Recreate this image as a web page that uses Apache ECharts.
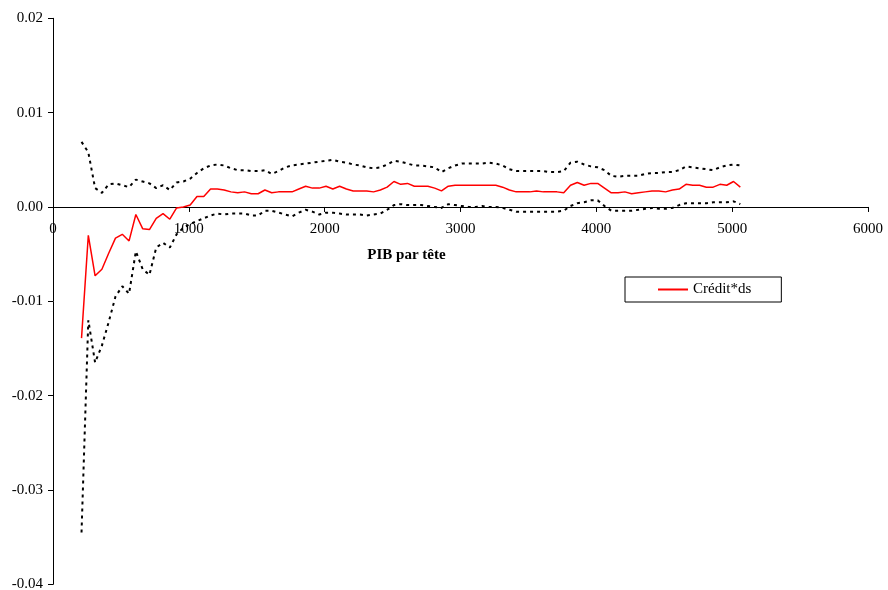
<!DOCTYPE html>
<html>
<head>
<meta charset="utf-8">
<script src="https://cdn.jsdelivr.net/npm/echarts@6/dist/echarts.min.js"></script>
<style>html,body{margin:0;padding:0;background:#fff}#c{width:888px;height:590px}</style>
</head>
<body>
<div id="c"></div>
<script>
var pib = [210,260,310,360,410,460,510,560,610,660,710,760,810,860,910,960,1010,1060,1110,1160,1210,1260,1310,1360,1410,1460,1510,1560,1610,1660,1710,1760,1810,1860,1910,1960,2010,2060,2110,2160,2210,2260,2310,2360,2410,2460,2510,2560,2610,2660,2710,2760,2810,2860,2910,2960,3010,3060,3110,3160,3210,3260,3310,3360,3410,3460,3510,3560,3610,3660,3710,3760,3810,3860,3910,3960,4010,4060,4110,4160,4210,4260,4310,4360,4410,4460,4510,4560,4610,4660,4710,4760,4810,4860,4910,4960,5010,5060];

var credit = [-0.0139,-0.0030,-0.0073,-0.0066,-0.0049,-0.0033,-0.0029,-0.0036,-0.0008,-0.0023,-0.0024,-0.0012,-0.0007,-0.0013,-0.0001,0.0000,0.0002,
0.0011,0.0011,0.0019,0.0019,0.0018,0.0016,0.0015,0.0016,0.0014,0.0014,0.0018,0.0015,0.0016,0.0016,0.0016,0.0019,0.0022,0.0020,0.0020,0.0022,0.0019,0.0022,0.0019,0.0017,0.0017,0.0017,0.0016,0.0018,0.0021,
0.0027,0.0024,0.0025,0.0022,0.0022,0.0022,0.0020,0.0017,0.0022,0.0023,0.0023,0.0023,0.0023,0.0023,0.0023,0.0023,0.0021,0.0018,0.0016,0.0016,0.0016,0.0017,0.0016,0.0016,0.0016,0.0015,0.0023,0.0026,0.0023,
0.0025,0.0025,0.0020,0.0015,0.0015,0.0016,0.0014,0.0015,0.0016,0.0017,0.0017,0.0016,0.0018,0.0019,0.0024,0.0023,0.0023,0.0021,0.0021,0.0024,0.0023,0.0027,0.0021];

var upper = [0.0069,0.0058,0.0020,0.0015,0.0024,0.0025,0.0023,0.0021,0.0029,0.0027,0.0025,0.0020,0.0023,0.0018,0.0026,0.0027,0.0030,
0.0036,0.0041,0.0044,0.0045,0.0044,0.0041,0.0039,0.0039,0.0038,0.0038,0.0039,0.0035,0.0038,0.0042,0.0044,0.0045,0.0046,0.0047,0.0048,0.0049,0.0050,0.0048,0.0047,0.0045,0.0044,0.0042,0.0041,0.0042,0.0045,
0.0049,0.0048,0.0046,0.0044,0.0044,0.0043,0.0042,0.0037,0.0041,0.0044,0.0046,0.0046,0.0046,0.0046,0.0047,0.0046,0.0044,0.0040,0.0038,0.0038,0.0038,0.0038,0.0038,0.0037,0.0037,0.0038,0.0047,0.0048,0.0045,
0.0043,0.0042,0.0039,0.0033,0.0032,0.0033,0.0033,0.0033,0.0035,0.0036,0.0036,0.0037,0.0037,0.0039,0.0043,0.0042,0.0041,0.0040,0.0039,0.0042,0.0044,0.0045,0.0044];

var lower = [-0.0345,-0.0120,-0.0165,-0.0147,-0.0122,-0.0095,-0.0084,-0.0092,-0.0047,-0.0066,-0.0072,-0.0043,-0.0038,-0.0043,-0.0029,-0.0022,-0.0018,
-0.0015,-0.0012,-0.0009,-0.0007,-0.0008,-0.0007,-0.0007,-0.0007,-0.0009,-0.0009,-0.0004,-0.0004,-0.0006,-0.0008,-0.0010,-0.0006,-0.0003,-0.0005,-0.0008,-0.0006,-0.0006,-0.0007,-0.0008,-0.0008,-0.0008,-0.0009,-0.0008,-0.0007,-0.0003,
0.0002,0.0003,0.0002,0.0002,0.0002,0.0001,0.0000,-0.0001,0.0003,0.0002,0.0001,0.0000,0.0000,0.0001,0.0000,0.0000,-0.0001,-0.0003,-0.0005,-0.0005,-0.0005,-0.0005,-0.0005,-0.0005,-0.0005,-0.0004,0.0001,0.0004,0.0005,
0.0007,0.0007,0.0001,-0.0004,-0.0004,-0.0004,-0.0004,-0.0003,-0.0002,-0.0001,-0.0002,-0.0002,-0.0001,0.0002,0.0004,0.0004,0.0004,0.0004,0.0005,0.0005,0.0005,0.0006,0.0003];

var xTickLabels = ['0','1000','2000','3000','4000','5000','6000'];
var yTickLabels = ['-0.04','-0.03','-0.02','-0.01','0.00','0.01','0.02'];
var seriesName = 'Crédit*ds';
var xName = 'PIB par tête';

function pairs(ys){ return pib.map(function(x,i){ return [x, ys[i]]; }); }

var FONT = '"Liberation Serif", "Times New Roman", serif';
var GRID_TOP = 18.3, GRID_BOTTOM = 5.7, H = 590;
var YMIN = -0.04, YMAX = 0.02;
var gridH = H - GRID_TOP - GRID_BOTTOM;
// move the x axis up from the grid bottom to the zero line
var xOffset = -gridH * (0 - YMIN) / (YMAX - YMIN);

var chart = echarts.init(document.getElementById('c'), null, {renderer:'canvas'});
chart.setOption({
  animation: false,
  backgroundColor: '#ffffff',
  textStyle: {fontFamily: FONT, color: '#000'},
  grid: {left: 53, right: 20, top: GRID_TOP, bottom: GRID_BOTTOM, containLabel: false, outerBoundsMode: 'none'},
  legend: {
    data: [seriesName],
    left: 625, top: 277,
    padding: [5, 30, 5, 33],
    borderColor: '#000', borderWidth: 1,
    icon: 'rect',
    itemWidth: 30, itemHeight: 2, itemGap: 5,
    textStyle: {fontFamily: FONT, fontSize: 15, color: '#000', lineHeight: 15}
  },
  xAxis: {
    type: 'value', min: 0, max: 6000, interval: 1000,
    position: 'bottom', offset: xOffset,
    name: xName, nameLocation: 'middle', nameGap: 41,
    nameTextStyle: {fontFamily: FONT, fontSize: 15, fontWeight: 'bold', color: '#000', padding: [0, 108, 0, 0]},
    axisLine: {onZero: false, lineStyle: {color: '#000', width: 1}},
    axisTick: {show: true, length: 5, lineStyle: {color: '#000'}},
    axisLabel: {fontFamily: FONT, fontSize: 15, color: '#000', margin: 15,
      formatter: function(v){ return xTickLabels[Math.round(v/1000)]; }},
    splitLine: {show: false}
  },
  yAxis: {
    type: 'value', min: YMIN, max: YMAX, interval: 0.01,
    axisLine: {show: true, onZero: false, lineStyle: {color: '#000', width: 1}},
    axisTick: {show: true, length: 5, lineStyle: {color: '#000'}},
    axisLabel: {fontFamily: FONT, fontSize: 15, color: '#000', margin: 10,
      formatter: function(v){ return yTickLabels[Math.round((v - YMIN)/0.01)]; }},
    splitLine: {show: false}
  },
  series: [
    {name: 'upper', type: 'line', data: pairs(upper), symbol: 'none', silent: true,
     lineStyle: {color: '#000', width: 2, type: [3, 4]}},
    {name: 'lower', type: 'line', data: pairs(lower), symbol: 'none', silent: true,
     lineStyle: {color: '#000', width: 2, type: [3, 4]}},
    {name: seriesName, type: 'line', data: pairs(credit), symbol: 'none', z: 3,
     lineStyle: {color: '#ff0000', width: 1.5}, itemStyle: {color: '#ff0000'}}
  ]
});
</script>
</body>
</html>
